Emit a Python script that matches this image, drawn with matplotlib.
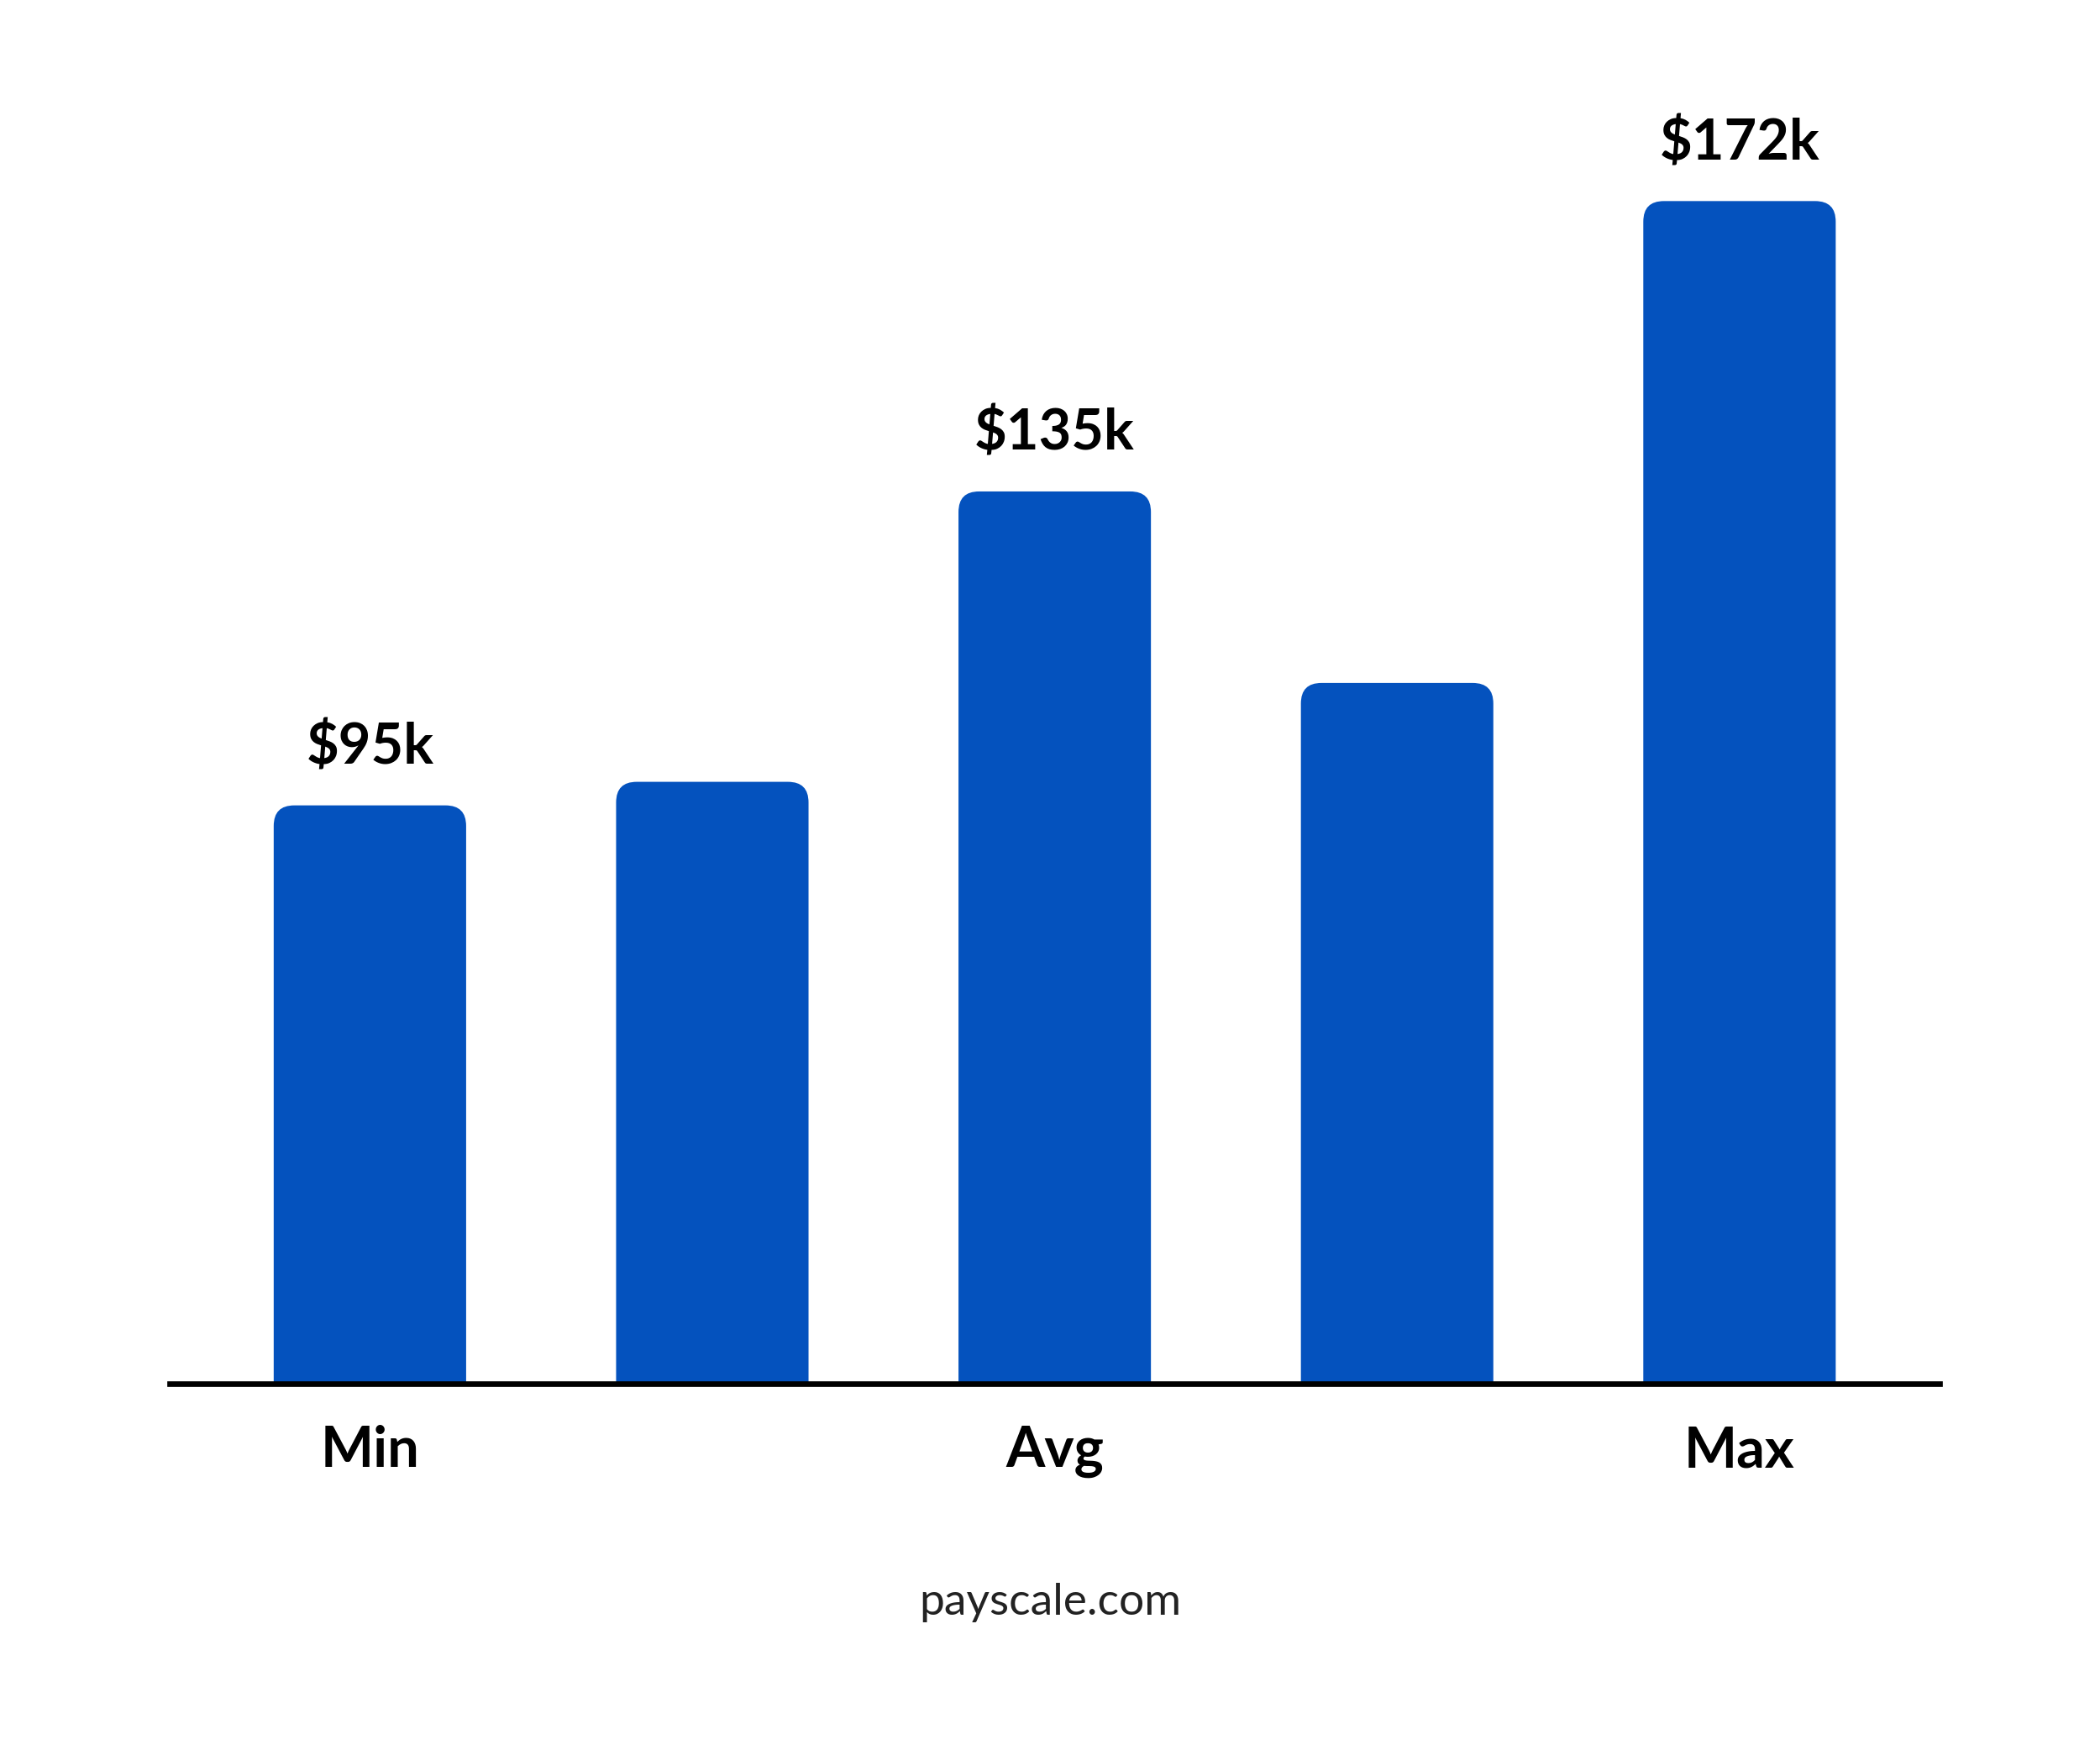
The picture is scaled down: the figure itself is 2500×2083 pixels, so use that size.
import matplotlib
matplotlib.use("Agg")
import matplotlib.pyplot as plt
from matplotlib.patches import FancyBboxPatch

categories = ["Min", "", "Avg", "", "Max"]
values = [95, 98, 135, 110.6, 172]
labels = ["$95k", "", "$135k", "", "$172k"]

plt.rcParams['font.family'] = ['Lato', 'DejaVu Sans']
fig = plt.figure(figsize=(15.6, 13.0), dpi=2500/15.6)
ax = fig.add_axes([126/1560, 1-1028/1300, (1441-126)/1560, (1028-100)/1300])
ax.set_xlim(-0.585, 4.585)
ax.set_ylim(21.3, 180.5)
color = "#0452BE"
w = 0.562
for i, v in enumerate(values):
    p = FancyBboxPatch((i - w/2, 0), w, v, boxstyle="round,pad=0,rounding_size=0.06",
                       mutation_aspect=43.6, fc=color, ec="none")
    ax.add_patch(p)
    if labels[i]:
        ax.text(i, v + 4, labels[i], ha="center", va="bottom", fontsize=30, fontweight="bold")
for s in ["top", "right", "left"]:
    ax.spines[s].set_visible(False)
ax.spines["bottom"].set_linewidth(3)
ax.set_yticks([])
ax.set_xticks(range(5))
ax.set_xticklabels(categories, fontsize=30, fontweight="bold")
ax.tick_params(axis="x", length=0, pad=22)
fig.text(0.5, 1-1190/1300, "payscale.com", ha="center", va="center", fontsize=24, color="#222222")
fig.savefig("out.png")
